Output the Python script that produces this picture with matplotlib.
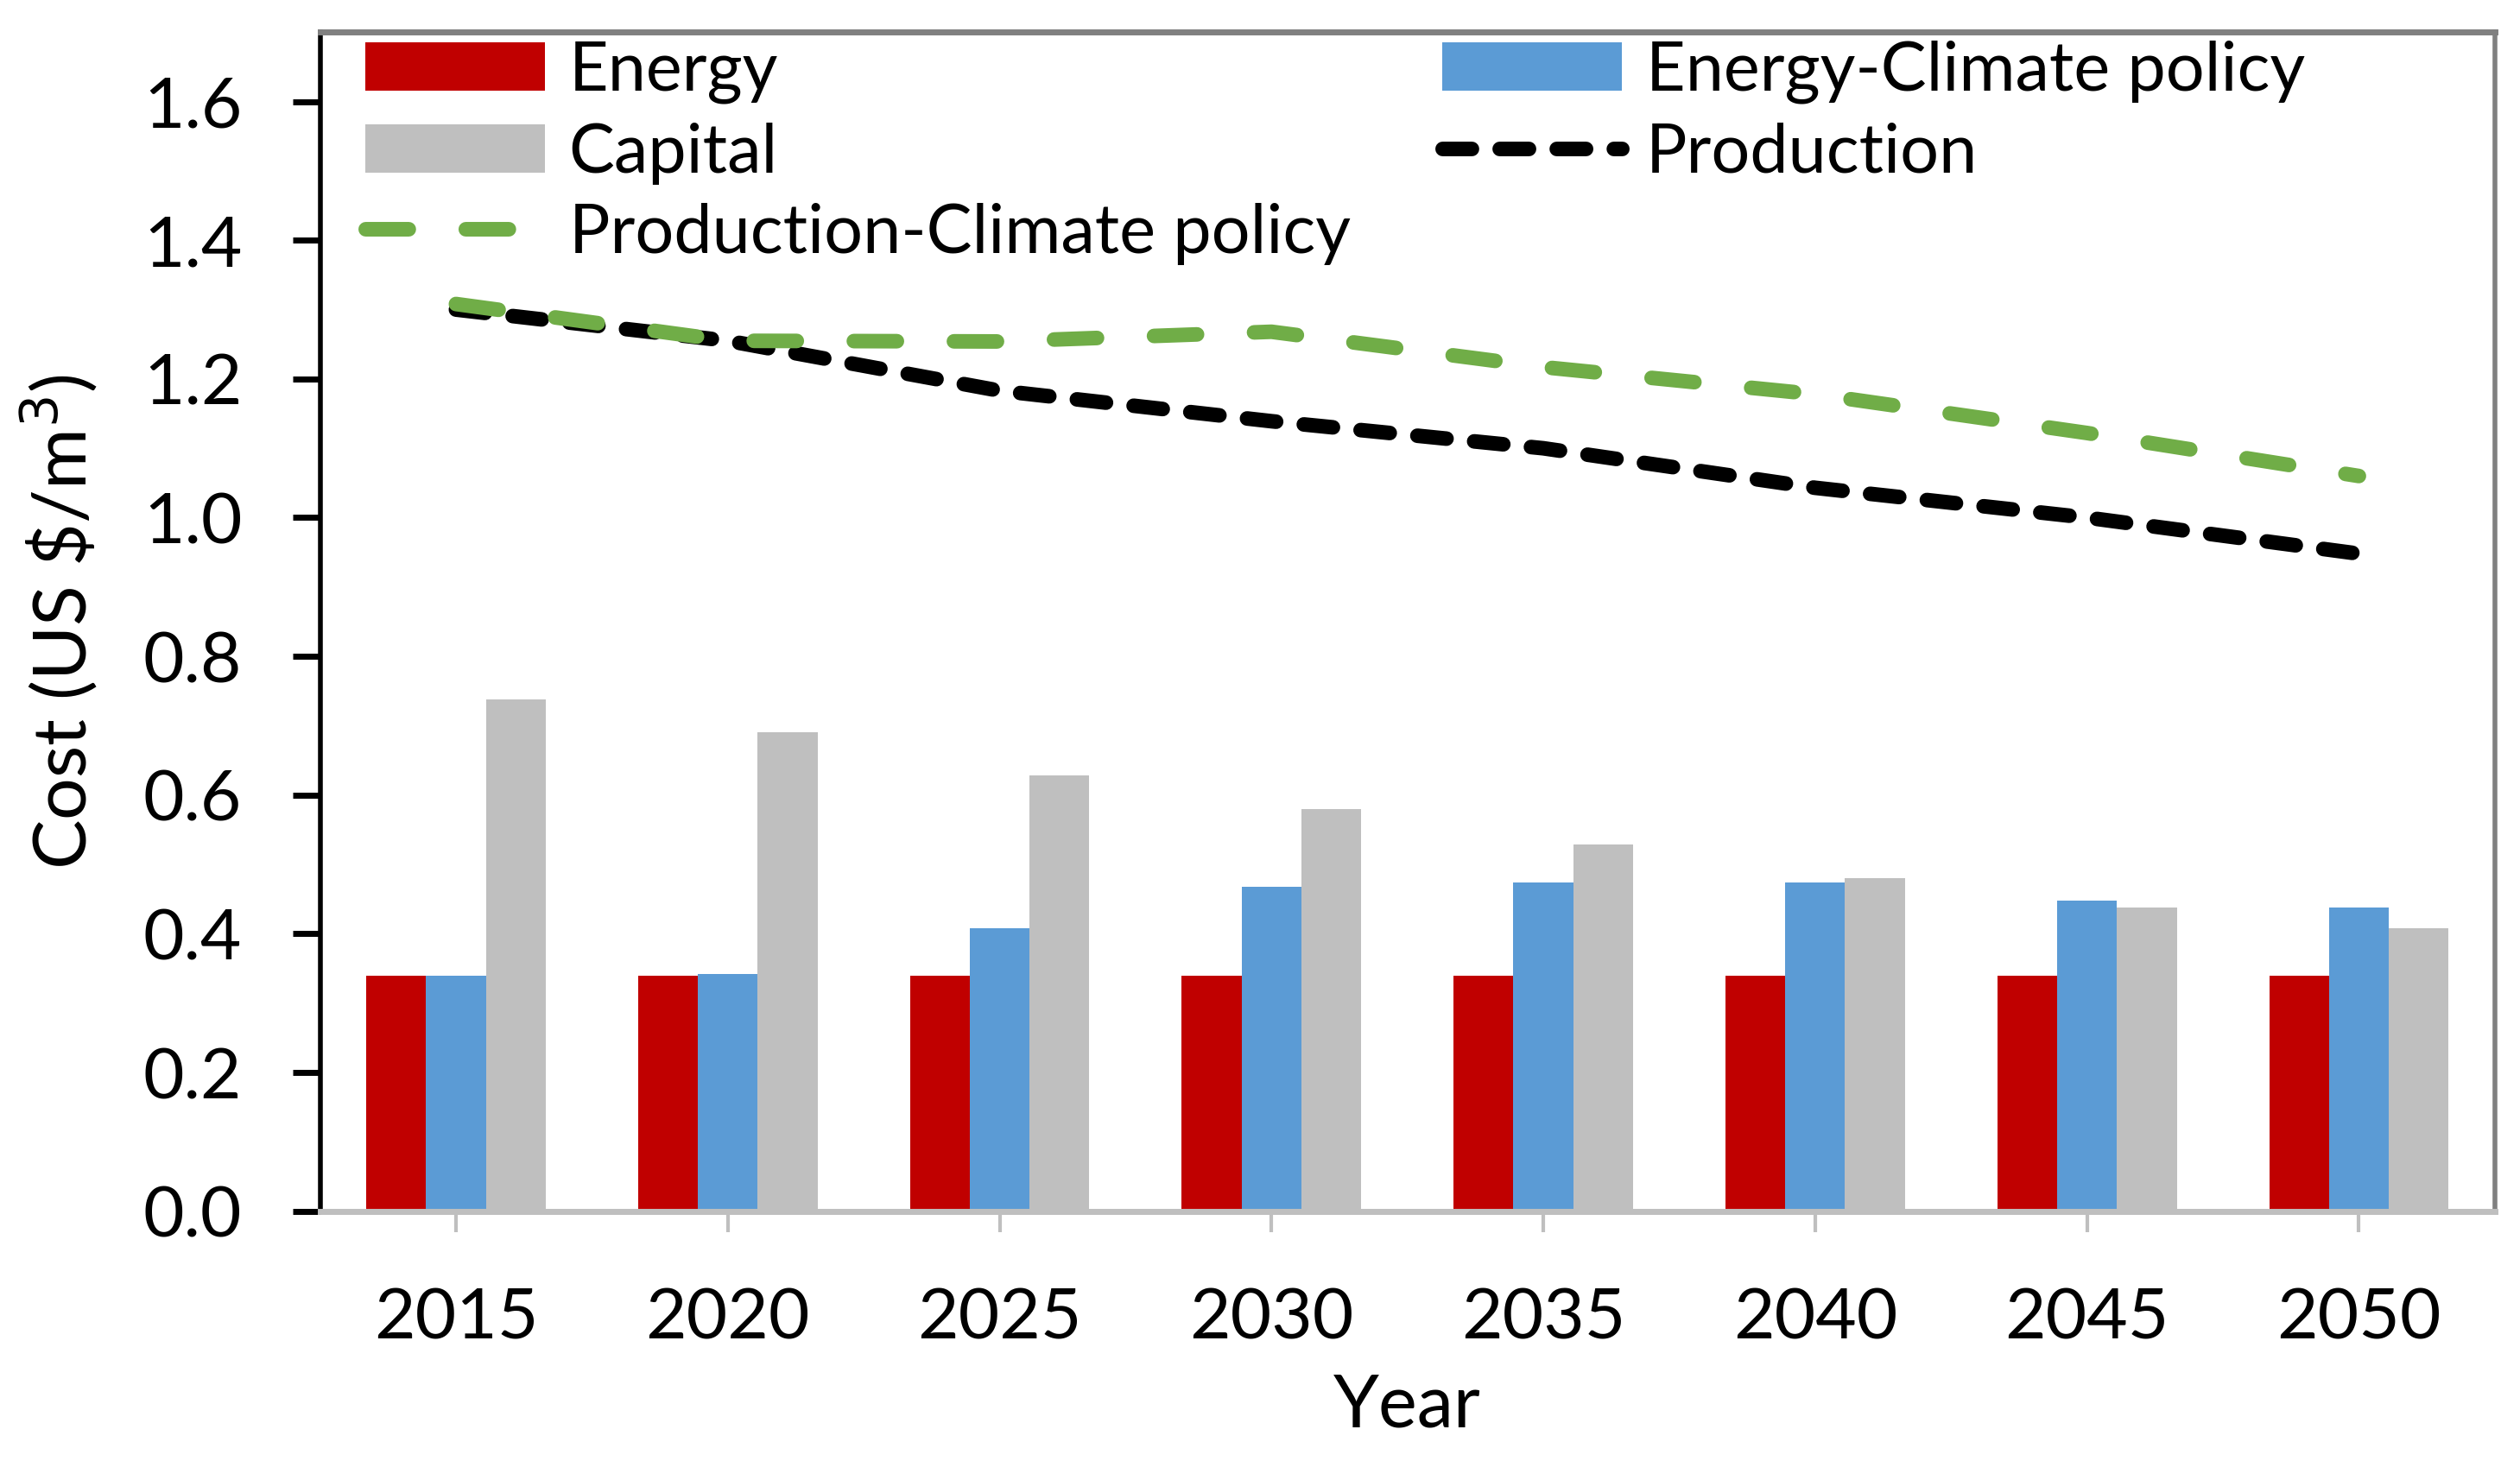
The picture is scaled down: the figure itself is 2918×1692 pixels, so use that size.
import matplotlib
matplotlib.use("Agg")
import matplotlib.pyplot as plt
import numpy as np

years = ["2015", "2020", "2025", "2030", "2035", "2040", "2045", "2050"]
energy = [0.34, 0.34, 0.34, 0.34, 0.34, 0.34, 0.34, 0.34]
energy_cp = [0.34, 0.342, 0.408, 0.468, 0.474, 0.474, 0.448, 0.438]
capital = [0.738, 0.690, 0.628, 0.580, 0.529, 0.480, 0.438, 0.408]
production = [1.30, 1.255, 1.183, 1.139, 1.100, 1.043, 1.000, 0.948]
production_cp = [1.308, 1.255, 1.254, 1.268, 1.217, 1.178, 1.122, 1.060]

plt.rcParams['font.family'] = ['Lato', 'DejaVu Sans']

fig = plt.figure(figsize=(29.18, 16.92), dpi=100)
ax = fig.add_axes([0.127, 0.171, 0.990 - 0.127, 0.978 - 0.171])

x = np.arange(len(years))
w = 0.22
b1 = ax.bar(x - w, energy, w, color='#C00000', label='Energy')
b2 = ax.bar(x, energy_cp, w, color='#5B9BD5', label='Energy-Climate policy')
b3 = ax.bar(x + w, capital, w, color='#BFBFBF', label='Capital')

lw = 12.2
l1, = ax.plot(x, production, color='black', lw=lw, dashes=(2.0, 1.9),
              dash_capstyle='round', label='Production')
l2, = ax.plot(x, production_cp, color='#70AD47', lw=lw, dashes=(2.94, 3.9),
              dash_capstyle='round', label='Production-Climate policy')

ax.set_xlim(-0.5, len(years) - 0.5)
ax.set_ylim(0, 1.7)
ax.set_yticks(np.arange(0, 1.61, 0.2))
ax.set_yticklabels([f"{v:.1f}" for v in np.arange(0, 1.61, 0.2)])
ax.set_xticks(x)
ax.set_xticklabels(years)

ax.spines['left'].set_color('black')
ax.spines['left'].set_linewidth(4.0)
ax.spines['bottom'].set_color('#BFBFBF')
ax.spines['bottom'].set_linewidth(5.0)
ax.spines['top'].set_color('#808080')
ax.spines['top'].set_linewidth(5.0)
ax.spines['right'].set_color('#808080')
ax.spines['right'].set_linewidth(4.0)

ax.tick_params(axis='y', direction='out', length=23, width=5, color='black',
               labelsize=59, pad=42)
ax.tick_params(axis='x', direction='out', length=17, width=3, color='#BFBFBF',
               labelsize=59, pad=46)

ax.set_ylabel('Cost (US \\$/m$^{3}$)', fontsize=62, labelpad=36)
ax.set_xlabel('Year', fontsize=61, labelpad=18)

handles = [b1, b3, l2, b2, l1]
labels = [h.get_label() for h in handles]
leg = ax.legend(handles, labels, ncol=2, loc='upper left',
                bbox_to_anchor=(0.0207, 0.993), frameon=False, fontsize=57,
                handlelength=2.63, handletextpad=0.35, columnspacing=1.34,
                labelspacing=0.27, borderaxespad=0.0, borderpad=0.0)

fig.savefig('out.png', dpi=100)
